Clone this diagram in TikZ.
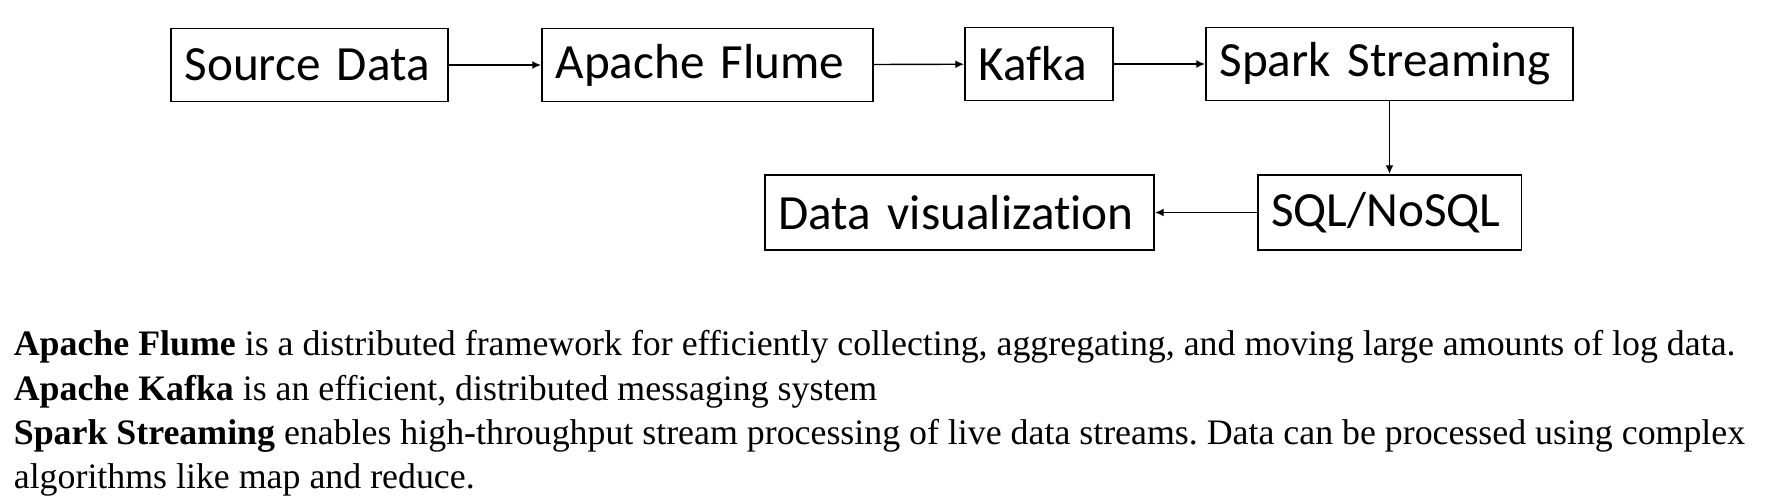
\documentclass[tikz,border=0pt]{standalone}
\usepackage{fontspec}
\setmainfont{Liberation Serif}
\newfontfamily\boxfont[Ligatures=NoCommon,WordSpace=0.85]{Carlito}
\usetikzlibrary{arrows.meta}
\frenchspacing
\begin{document}
\begin{tikzpicture}[x=0.02cm,y=-0.02cm,
	stage/.style={draw,line width=1.1pt,inner xsep=0.27cm,inner ysep=0pt,align=left,font=\boxfont\fontsize{28}{30}\selectfont},
	flow/.style={line width=0.8pt,-{Latex[length=5pt,width=4.5pt]}},
	note/.style={anchor=base west,inner sep=0pt,font=\fontsize{20.4}{22}\selectfont}]
	\useasboundingbox (0,0) rectangle (1766,504);
	\node[stage,text width=5cm,minimum height=1.46cm] (src) at (309.5,65) {Source Data};
	\node[stage,text width=6.08cm,minimum height=1.46cm] (flume) at (707.5,65) {Apache Flume};
	\node[stage,text width=2.42cm,minimum height=1.46cm] (kafka) at (1039,64) {Kafka};
	\node[stage,text width=6.8cm,minimum height=1.46cm] (spark) at (1389.5,64) {Spark Streaming};
	\node[stage,text width=4.74cm,minimum height=1.5cm] (sql) at (1389.5,212.5) {SQL/NoSQL};
	\node[stage,text width=7.24cm,minimum height=1.5cm] (viz) at (959.5,212.5) {Data visualization};
	\draw[flow] (src) -- (flume);
	\draw[flow] (flume) -- (kafka);
	\draw[flow] (kafka) -- (spark);
	\draw[flow] (spark) -- (sql);
	\draw[flow] (sql) -- (viz);
	\node[note] (flumenote) at (13.5,355) {\textbf{Apache Flume} is a distributed framework for efficiently collecting, aggregating, and moving large amounts of log data.};
	\node[note] (kafkanote) at (13.5,400) {\textbf{Apache Kafka} is an efficient, distributed messaging system};
	\node[note] (sparknote) at (13.5,444) {\textbf{Spark Streaming} enables high-throughput stream processing of live data streams. Data can be processed using complex};
	\node[note] (sparkmore) at (13.5,488) {algorithms like map and reduce.};
\end{tikzpicture}
\end{document}
